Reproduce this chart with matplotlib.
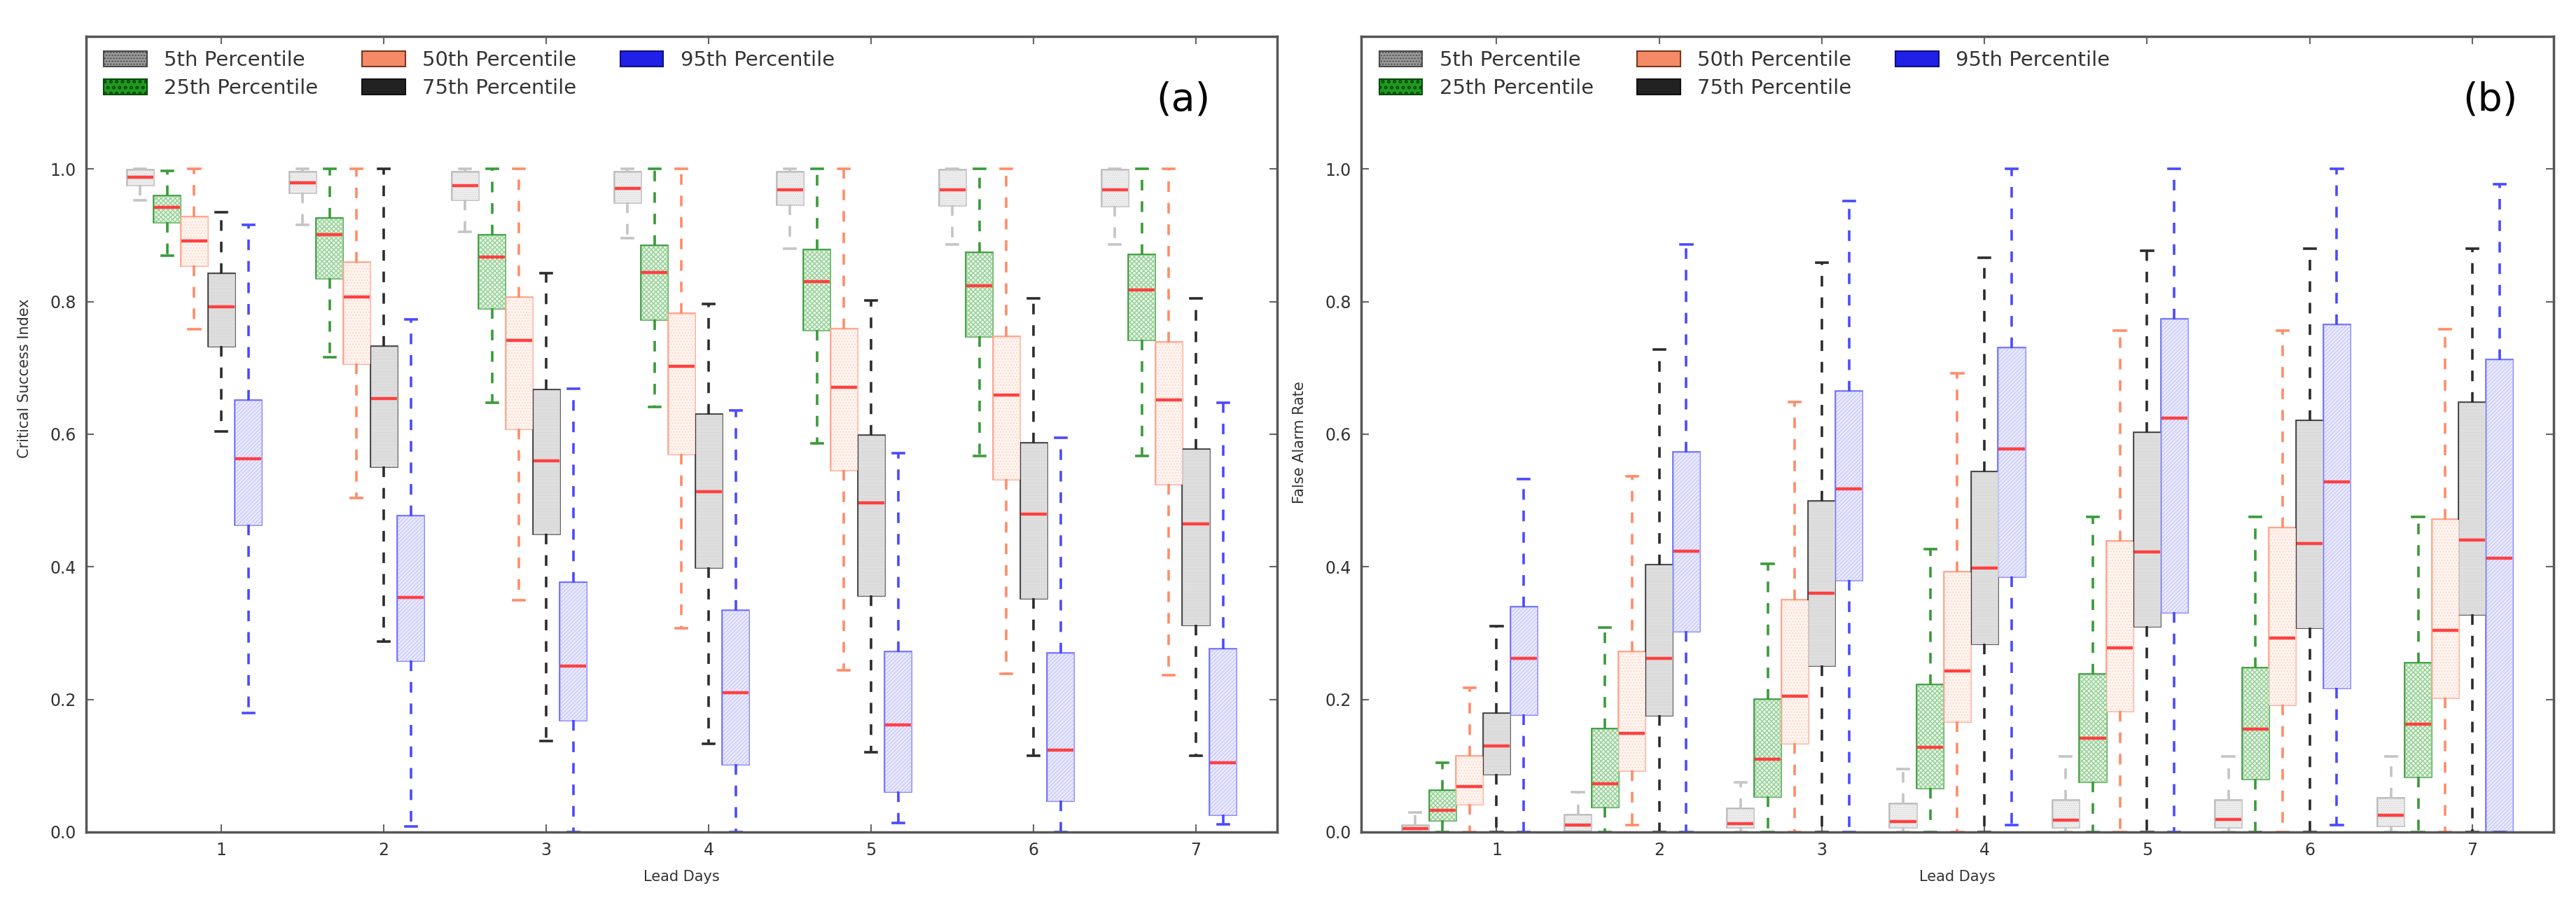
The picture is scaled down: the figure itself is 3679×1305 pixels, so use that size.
import numpy as np
import matplotlib
matplotlib.use("Agg")
import matplotlib.pyplot as plt
from matplotlib.patches import Patch, PathPatch

# lead days and percentile series
days = [1, 2, 3, 4, 5, 6, 7]
labels = ["5th Percentile", "25th Percentile", "50th Percentile",
          "75th Percentile", "95th Percentile"]

# per day: [whisker low, q1, median, q3, whisker high]
# (a) Critical Success Index
csi_p5 = [[0.953, 0.976, 0.988, 0.998, 1.0],
          [0.916, 0.964, 0.979, 0.995, 1.0],
          [0.905, 0.954, 0.975, 0.995, 1.0],
          [0.896, 0.950, 0.971, 0.995, 1.0],
          [0.880, 0.946, 0.969, 0.995, 1.0],
          [0.886, 0.945, 0.969, 0.998, 1.0],
          [0.886, 0.944, 0.969, 0.998, 1.0]]
csi_p25 = [[0.869, 0.920, 0.942, 0.959, 0.997],
           [0.716, 0.836, 0.901, 0.925, 1.0],
           [0.648, 0.790, 0.867, 0.900, 1.0],
           [0.641, 0.773, 0.844, 0.884, 1.0],
           [0.586, 0.757, 0.830, 0.878, 1.0],
           [0.567, 0.748, 0.824, 0.874, 1.0],
           [0.567, 0.743, 0.818, 0.870, 1.0]]
csi_p50 = [[0.758, 0.855, 0.891, 0.927, 1.0],
           [0.504, 0.707, 0.807, 0.859, 1.0],
           [0.350, 0.608, 0.742, 0.806, 1.0],
           [0.307, 0.570, 0.702, 0.782, 1.0],
           [0.244, 0.546, 0.671, 0.758, 1.0],
           [0.239, 0.532, 0.659, 0.747, 1.0],
           [0.237, 0.525, 0.652, 0.738, 1.0]]
csi_p75 = [[0.604, 0.733, 0.792, 0.842, 0.935],
           [0.287, 0.551, 0.654, 0.732, 1.0],
           [0.137, 0.450, 0.560, 0.667, 0.843],
           [0.133, 0.399, 0.513, 0.630, 0.796],
           [0.120, 0.357, 0.496, 0.598, 0.802],
           [0.115, 0.353, 0.479, 0.586, 0.805],
           [0.115, 0.313, 0.465, 0.577, 0.805]]
csi_p95 = [[0.180, 0.464, 0.563, 0.651, 0.916],
           [0.008, 0.259, 0.354, 0.476, 0.773],
           [0.0, 0.169, 0.250, 0.376, 0.669],
           [0.0, 0.102, 0.210, 0.334, 0.636],
           [0.014, 0.061, 0.162, 0.271, 0.571],
           [0.0, 0.048, 0.124, 0.269, 0.595],
           [0.012, 0.026, 0.104, 0.276, 0.648]]

# (b) False Alarm Rate
far_p5 = [[0.0, 0.0, 0.005, 0.009, 0.029],
          [0.0, 0.003, 0.010, 0.025, 0.060],
          [0.0, 0.007, 0.013, 0.035, 0.075],
          [0.0, 0.007, 0.016, 0.042, 0.095],
          [0.0, 0.007, 0.018, 0.047, 0.114],
          [0.0, 0.007, 0.019, 0.048, 0.114],
          [0.0, 0.009, 0.025, 0.051, 0.114]]
far_p25 = [[0.0, 0.018, 0.033, 0.062, 0.104],
           [0.0, 0.038, 0.073, 0.155, 0.308],
           [0.0, 0.054, 0.110, 0.200, 0.404],
           [0.0, 0.067, 0.128, 0.222, 0.427],
           [0.0, 0.076, 0.141, 0.238, 0.475],
           [0.0, 0.080, 0.155, 0.247, 0.475],
           [0.0, 0.083, 0.163, 0.255, 0.475]]
far_p50 = [[0.0, 0.042, 0.069, 0.114, 0.218],
           [0.011, 0.093, 0.149, 0.271, 0.537],
           [0.0, 0.134, 0.205, 0.350, 0.649],
           [0.0, 0.167, 0.243, 0.392, 0.692],
           [0.0, 0.183, 0.278, 0.438, 0.756],
           [0.0, 0.192, 0.293, 0.458, 0.756],
           [0.0, 0.203, 0.304, 0.471, 0.758]]
far_p75 = [[0.0, 0.088, 0.130, 0.178, 0.310],
           [0.0, 0.176, 0.262, 0.402, 0.728],
           [0.0, 0.251, 0.360, 0.499, 0.859],
           [0.0, 0.284, 0.398, 0.543, 0.866],
           [0.0, 0.310, 0.422, 0.602, 0.877],
           [0.0, 0.308, 0.435, 0.620, 0.880],
           [0.0, 0.328, 0.440, 0.647, 0.880]]
far_p95 = [[0.0, 0.177, 0.262, 0.339, 0.532],
           [0.0, 0.303, 0.424, 0.572, 0.886],
           [0.0, 0.380, 0.518, 0.664, 0.952],
           [0.011, 0.385, 0.578, 0.730, 1.0],
           [0.0, 0.332, 0.624, 0.773, 1.0],
           [0.011, 0.218, 0.528, 0.765, 1.0],
           [0.0, 0.0, 0.413, 0.712, 0.977]]

offsets = [-0.5, -0.333, -0.167, 0.0, 0.167]

# box face, hatch colour, hatch, outline, whisker colour
styles = [
    ("#f5f5f5", "#d4d4d4", "......", "#b8b8b8", "#c4c4c4"),
    ("#ecf7ec", "#94d094", "xxxxx", "#3a9a3a", "#3a9a3a"),
    ("#fff5f1", "#ffd9cc", "....", "#ff9f85", "#ff8c69"),
    ("#f3f3f3", "#d2d2d2", "--------", "#3c3c3c", "#2c2c2c"),
    ("#ececff", "#c6c6ff", "//////", "#6c6cff", "#4a4aff"),
]
legend_styles = [
    ("#9a9a9a", "#4a4a4a", "...."),
    ("#1f9a1f", "#0a4a0a", "oo"),
    ("#f58a66", "#7a3520", ""),
    ("#222222", "#111111", ""),
    ("#2020e6", "#10107a", ""),
]

plt.rcParams["font.family"] = "DejaVu Sans"
plt.rcParams["hatch.linewidth"] = 1.0

fig = plt.figure(figsize=(36.79, 13.05), dpi=100)
ax_a = fig.add_axes([0.0334, 0.0897, 0.4624, 0.8705])
ax_b = fig.add_axes([0.5284, 0.0897, 0.4629, 0.8705])


def draw_panel(ax, series, ylabel, tag, tag_x, ylab_y):
    for k, data in enumerate(series):
        face, hcol, hatch, edge, wcol = styles[k]
        stats = [dict(whislo=r[0], q1=r[1], med=r[2], q3=r[3], whishi=r[4],
                      fliers=[]) for r in data]
        pos = [d + offsets[k] for d in days]
        res = ax.bxp(stats, positions=pos, widths=0.16, patch_artist=True,
                     showfliers=False, capwidths=0.07, manage_ticks=False,
                     boxprops=dict(facecolor=face, edgecolor=hcol, hatch=hatch,
                                   linewidth=0.5),
                     whiskerprops=dict(color=wcol, linewidth=2.6,
                                       linestyle=(0, (4.2, 4.3))),
                     capprops=dict(color=wcol, linewidth=2.6),
                     medianprops=dict(color="#ff4040", linewidth=3.2))
        for box in res["boxes"]:
            ax.add_patch(PathPatch(box.get_path(), fill=False, edgecolor=edge,
                                   linewidth=2.6, zorder=1.5))

    ax.set_xlim(0.167, 7.5)
    ax.set_ylim(0, 1.2)
    ax.set_xticks(days)
    ax.set_yticks([0.0, 0.2, 0.4, 0.6, 0.8, 1.0])
    ax.set_yticklabels(["0.0", "0.2", "0.4", "0.6", "0.8", "1.0"])
    ax.tick_params(direction="in", top=True, right=True, length=8, width=1.5,
                   color="#666666", labelsize=17, labelcolor="#333333", pad=10)
    for s in ax.spines.values():
        s.set_linewidth(2.5)
        s.set_color("#555555")

    ax.set_xlabel("Lead Days", fontsize=15, color="#333333", labelpad=12)
    ax.set_ylabel(ylabel, fontsize=15, color="#333333")
    ax.yaxis.set_label_coords(-0.046, ylab_y)
    ax.text(tag_x, 0.92, tag, transform=ax.transAxes, fontsize=40,
            ha="center", va="center", color="black")

    handles = [Patch(facecolor=f, edgecolor=e, hatch=h, linewidth=1.5)
               for f, e, h in legend_styles]
    ax.legend(handles, labels, ncol=3, loc="upper left",
              bbox_to_anchor=(0.015, 0.982), borderaxespad=0, borderpad=0,
              frameon=False, fontsize=21, handlelength=2.1, handleheight=0.8,
              handletextpad=0.85, columnspacing=2.15, labelspacing=0.4,
              labelcolor="#333333")


draw_panel(ax_a, [csi_p5, csi_p25, csi_p50, csi_p75, csi_p95],
           "Critical Success Index", "(a)", 0.921, 0.57)
draw_panel(ax_b, [far_p5, far_p25, far_p50, far_p75, far_p95],
           "False Alarm Rate", "(b)", 0.947, 0.49)

fig.savefig("out.png", dpi=100, facecolor="white")
